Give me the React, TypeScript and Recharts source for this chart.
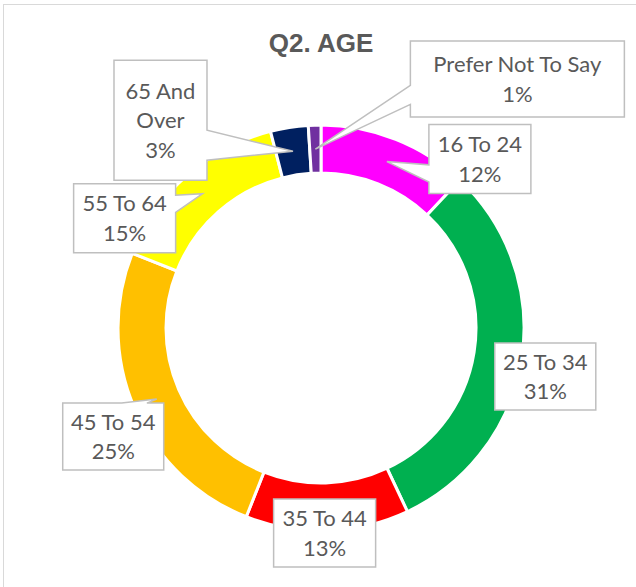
import React from 'react';
import { PieChart, Pie, Cell } from 'recharts';

const categories = ['16 To 24', '25 To 34', '35 To 44', '45 To 54', '55 To 64', '65 And Over', 'Prefer Not To Say'];
const shares = [12, 31, 13, 25, 15, 3, 1];
const shareLabels = ['12%', '31%', '13%', '25%', '15%', '3%', '1%'];
const sliceColors = ['#FF00FF', '#00B050', '#FF0000', '#FFC000', '#FFFF00', '#002060', '#7030A0'];
const chartTitle = 'Q2. AGE';

// label box placement relative to the slice anchor (style only)
const labelBoxes = [
  { dx: 42, dy: -37, w: 102, h: 69, lines: 1 },
  { dx: -3, dy: -13, w: 101, h: 67, lines: 1 },
  { dx: -53, dy: -8, w: 102, h: 68, lines: 1 },
  { dx: -94, dy: 4, w: 101, h: 67, lines: 1 },
  { dx: -129, dy: -10, w: 102, h: 69, lines: 1 },
  { dx: -179, dy: -91, w: 93, h: 120, lines: 2 },
  { dx: 95, dy: -108, w: 214, h: 76, lines: 1 },
];

const data = categories.map((name, i) => ({ name, value: shares[i] }));

const RAD = Math.PI / 180;
const BORDER = '#BFBFBF';
const TEXT = '#595959';
const FONT = 'Lato, "Liberation Sans", sans-serif';

function calloutPath(x: number, y: number, w: number, h: number, tx: number, ty: number) {
  const inside = tx >= x && tx <= x + w && ty >= y && ty <= y + h;
  const x2 = x + w;
  const y2 = y + h;
  if (inside) {
    return `M${x},${y}L${x2},${y}L${x2},${y2}L${x},${y2}Z`;
  }
  const ccx = x + w / 2;
  const ccy = y + h / 2;
  const ddx = (tx - ccx) / w;
  const ddy = (ty - ccy) / h;
  if (Math.abs(ddx) > Math.abs(ddy)) {
    const below = ty > ccy;
    const b1 = y + h * (below ? 7 / 12 : 2 / 12);
    const b2 = y + h * (below ? 10 / 12 : 5 / 12);
    if (tx < ccx) {
      return `M${x},${y}L${x2},${y}L${x2},${y2}L${x},${y2}L${x},${b2}L${tx},${ty}L${x},${b1}Z`;
    }
    return `M${x},${y}L${x2},${y}L${x2},${b1}L${tx},${ty}L${x2},${b2}L${x2},${y2}L${x},${y2}Z`;
  }
  const right = tx > ccx;
  const a1 = x + w * (right ? 7 / 12 : 2 / 12);
  const a2 = x + w * (right ? 10 / 12 : 5 / 12);
  if (ty < ccy) {
    return `M${x},${y}L${a1},${y}L${tx},${ty}L${a2},${y}L${x2},${y}L${x2},${y2}L${x},${y2}Z`;
  }
  return `M${x},${y}L${x2},${y}L${x2},${y2}L${a2},${y2}L${tx},${ty}L${a1},${y2}L${x},${y2}Z`;
}

const renderLabel = (props: any) => {
  const { cx, cy, midAngle, innerRadius, outerRadius, index } = props;
  const r = (innerRadius + outerRadius) / 2;
  const tx = cx + r * Math.cos(-midAngle * RAD);
  const ty = cy + r * Math.sin(-midAngle * RAD);
  const box = labelBoxes[index];
  const bx = tx + box.dx;
  const by = ty + box.dy;
  const name = categories[index];
  let nameLines: string[] = [name];
  if (box.lines === 2) {
    const words = name.split(' ');
    nameLines = [words.slice(0, 2).join(' '), words.slice(2).join(' ')];
  }
  const lines = [...nameLines, shareLabels[index]];
  const lh = 29.5;
  const centerY = by + box.h / 2;
  const centerX = bx + box.w / 2;
  return (
    <g key={`lbl-${index}`}>
      <path d={calloutPath(bx, by, box.w, box.h, tx, ty)} fill="#FFFFFF" stroke={BORDER} strokeWidth={1.5} />
      {lines.map((ln, i) => (
        <text
          key={i}
          x={centerX}
          y={centerY + (i - (lines.length - 1) / 2) * lh + 8}
          textAnchor="middle"
          fontFamily={FONT}
          fontSize={22}
          fill={TEXT}
        >
          {ln}
        </text>
      ))}
    </g>
  );
};

export default function App() {
  return (
    <div style={{ position: 'absolute', left: 0, top: 0, width: 636, height: 587, background: '#fff', overflow: 'hidden' }}>
      <div
        style={{
          position: 'absolute',
          left: 3,
          top: 4,
          width: 640,
          height: 600,
          borderLeft: '1.5px solid #D9D9D9',
          borderTop: '1.5px solid #D9D9D9',
          boxSizing: 'border-box',
        }}
      />
      <div style={{ position: 'absolute', left: 0, top: 0 }}>
        <PieChart width={636} height={587} margin={{ top: 0, right: 0, bottom: 0, left: 0 }}>
          <Pie
            data={data}
            dataKey="value"
            nameKey="name"
            cx={321}
            cy={328}
            innerRadius={155}
            outerRadius={203}
            startAngle={90}
            endAngle={-270}
            stroke="#FFFFFF"
            strokeWidth={3}
            labelLine={false}
            label={renderLabel}
            isAnimationActive={false}
          >
            {data.map((d, i) => (
              <Cell key={d.name} fill={sliceColors[i]} />
            ))}
          </Pie>
        </PieChart>
      </div>
      <svg width={636} height={587} style={{ position: 'absolute', left: 0, top: 0, pointerEvents: 'none' }}>
        <text
          x={321}
          y={52}
          textAnchor="middle"
          fontFamily='"Liberation Sans", Arial, sans-serif'
          fontWeight="bold"
          fontSize={26}
          fill={TEXT}
        >
          {chartTitle}
        </text>
      </svg>
    </div>
  );
}
